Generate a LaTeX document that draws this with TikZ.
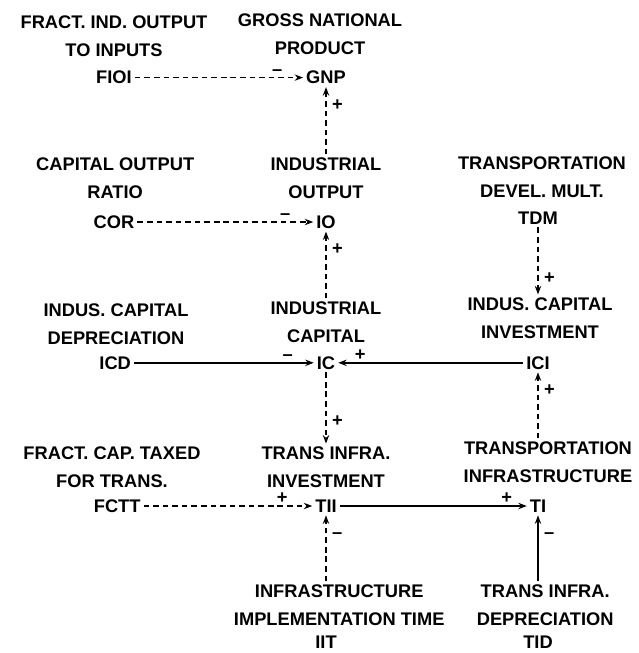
\documentclass[tikz,border=0pt]{standalone}
\usepackage{fontspec}
\setmainfont{Liberation Sans}
\usetikzlibrary{arrows.meta}

\begin{document}
\begin{tikzpicture}[x=1cm,y=1cm,
  font=\fontsize{13}{20}\selectfont\bfseries,
  var/.style={inner sep=2pt},
  ttl/.style={align=center,inner sep=2pt},
  sgn/.style={inner sep=1pt},
  link/.style={line width=1.1pt,-{Stealth[length=6pt,width=4.5pt]}},
  info/.style={link,dash pattern=on 4pt off 2.8pt}]
\useasboundingbox (0,0) rectangle (15.975,-16.325);
% column one
\node[ttl] (fioiT) at (2.85,-0.9)   {FRACT. IND. OUTPUT\\TO INPUTS};
\node[var] (fioi)  at (2.85,-1.94)  {FIOI};
\node[ttl] (corT)  at (2.88,-4.45)  {CAPITAL OUTPUT\\RATIO};
\node[var] (cor)   at (2.85,-5.55)  {COR};
\node[ttl] (icdT)  at (2.9,-8.1)    {INDUS. CAPITAL\\DEPRECIATION};
\node[var] (icd)   at (2.88,-9.07)  {ICD};
\node[ttl] (fcttT) at (2.8,-11.68)  {FRACT. CAP. TAXED\\FOR TRANS.};
\node[var] (fctt)  at (2.93,-12.65) {FCTT};
% column two
\node[ttl] (gnpT)  at (8.0,-0.85)   {GROSS NATIONAL\\PRODUCT};
\node[var] (gnp)   at (8.15,-1.94)  {GNP};
\node[ttl] (ioT)   at (8.15,-4.45)  {INDUSTRIAL\\OUTPUT};
\node[var] (io)    at (8.15,-5.55)  {IO};
\node[ttl] (icT)   at (8.15,-8.05)  {INDUSTRIAL\\CAPITAL};
\node[var] (ic)    at (8.15,-9.07)  {IC};
\node[ttl] (tiiT)  at (8.15,-11.68) {TRANS INFRA.\\INVESTMENT};
\node[var] (tii)   at (8.15,-12.65) {TII};
\node[ttl] (iitT)  at (8.48,-15.12) {INFRASTRUCTURE\\IMPLEMENTATION TIME};
\node[var] (iit)   at (8.15,-16.05) {IIT};
% column three
\node[ttl] (tdmT)  at (13.55,-4.43) {TRANSPORTATION\\DEVEL. MULT.};
\node[var] (tdm)   at (13.45,-5.45) {TDM};
\node[ttl] (iciT)  at (13.5,-7.95)  {INDUS. CAPITAL\\INVESTMENT};
\node[var] (ici)   at (13.45,-9.07) {ICI};
\node[ttl] (tiT)   at (13.7,-11.55) {TRANSPORTATION\\INFRASTRUCTURE};
\node[var] (ti)    at (13.45,-12.65) {TI};
\node[ttl] (tidT)  at (13.63,-15.12) {TRANS INFRA.\\DEPRECIATION};
\node[var] (tid)   at (13.45,-16.05) {TID};
% horizontal links
\draw[info] (fioi.east) -- (gnp.west) node[sgn,pos=1,above,xshift=-0.65cm] (s1) {--};
\draw[info] (cor.east) -- (io.west) node[sgn,pos=1,above,xshift=-0.7cm] (s2) {--};
\draw[link] (icd.east) -- (ic.west) node[sgn,pos=1,above,xshift=-0.65cm] (s3) {--};
\draw[link] (ici.west) -- (ic.east) node[sgn,pos=1,above,xshift=0.55cm] (s4) {+};
\draw[info] (fctt.east) -- (tii.west) node[sgn,pos=1,above,xshift=-0.75cm] (s5) {+};
\draw[link] (tii.east) -- (ti.west) node[sgn,pos=1,above,xshift=-0.5cm] (s6) {+};
% vertical links
\draw[info] (ioT.north) -- (gnp.south) node[sgn,pos=1,right,xshift=0.1cm,yshift=-0.45cm] (s7) {+};
\draw[info] (icT.north) -- (io.south) node[sgn,pos=1,right,xshift=0.1cm,yshift=-0.45cm] (s8) {+};
\draw[info] (ic.south) -- (tiiT.north) node[sgn,pos=1,right,xshift=0.1cm,yshift=0.55cm] (s9) {+};
\draw[info] (tdm.south) -- (iciT.north -| tdm) node[sgn,pos=1,right,xshift=0.1cm,yshift=0.4cm] (s10) {+};
\draw[info] (tiT.north -| ici) -- (ici.south) node[sgn,pos=1,right,xshift=0.1cm,yshift=-0.45cm] (s11) {+};
\draw[info] (iitT.north -| tii) -- (tii.south) node[sgn,pos=1,right,xshift=0.1cm,yshift=-0.5cm] (s12) {--};
\draw[link] (tidT.north -| ti) -- (ti.south) node[sgn,pos=1,right,xshift=0.1cm,yshift=-0.5cm] (s13) {--};
\end{tikzpicture}
\end{document}
